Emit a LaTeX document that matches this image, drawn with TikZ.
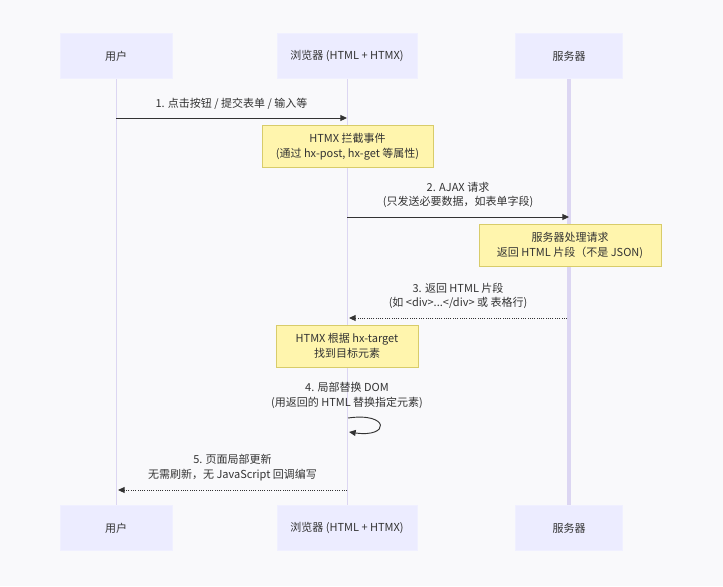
\documentclass[tikz,border=0pt]{standalone}
\usepackage{fontspec}
\setmainfont{Noto Sans CJK SC}
\usetikzlibrary{arrows.meta}
\definecolor{bgc}{HTML}{F9F9FB}
\definecolor{actorfill}{HTML}{ECECFF}
\definecolor{lifeline}{HTML}{DCD6F2}
\definecolor{notefill}{HTML}{FFF5AD}
\definecolor{notedraw}{HTML}{D8CC6A}
\definecolor{txt}{HTML}{333333}
\tikzset{
  actor/.style={fill=actorfill,draw=actorfill!80!white,minimum height=33.75pt,font=\fontsize{8.25}{10}\selectfont,text=txt},
  note/.style={fill=notefill,draw=notedraw,font=\fontsize{8.25}{11}\selectfont,text=txt,align=center,minimum height=31.5pt},
  msgtext/.style={font=\fontsize{8.25}{11}\selectfont,text=txt,align=center},
  msg/.style={-{Triangle[length=5pt,width=4.5pt]},draw=txt,line width=0.7pt},
  reply/.style={msg,densely dotted}
}
\begin{document}
\begin{tikzpicture}[x=0.75pt,y=-0.75pt]
  \fill[bgc] (0,0) rectangle (723,586);
  \useasboundingbox (0,0) rectangle (723,586);

  % lifelines
  \draw[lifeline,line width=0.75pt] (116,78) -- (116,505);
  \draw[lifeline,line width=0.75pt] (347,78) -- (347,505);
  \draw[lifeline,line width=3pt] (569,78) -- (569,505);

  % participants
  \node[actor,minimum width=84pt]  (user)   at (116,56)  {用户};
  \node[actor,minimum width=105pt] (browser) at (347,56) {浏览器 (HTML + HTMX)};
  \node[actor,minimum width=80pt]  (server) at (569,56)  {服务器};
  \node[actor,minimum width=84pt]  (userB)   at (116,528) {用户};
  \node[actor,minimum width=105pt] (browserB) at (347,528) {浏览器 (HTML + HTMX)};
  \node[actor,minimum width=80pt]  (serverB) at (569,528) {服务器};

  \coordinate (u1) at (116,118);  \coordinate (b1) at (347,118);
  \coordinate (b2) at (347,217);  \coordinate (s2) at (569,217);
  \coordinate (s3) at (567,318);  \coordinate (b3) at (349,318);
  \coordinate (b4) at (348,418);  \coordinate (b4e) at (349,432);
  \coordinate (b5) at (347,490);  \coordinate (u5) at (118,490);

  % messages
  \draw[msg] (u1) -- node[msgtext,above=3pt] {1. 点击按钮 / 提交表单 / 输入等} (b1);
  \node[note,minimum width=128pt] (n1) at (347.5,146.5) {HTMX 拦截事件\\(通过 hx-post, hx-get 等属性)};
  \draw[msg] (b2) -- node[msgtext,above=3pt] {2. AJAX 请求\\(只发送必要数据，如表单字段)} (s2);
  \node[note,minimum width=136.5pt] (n2) at (570,245.5) {服务器处理请求\\返回 HTML 片段（不是 JSON)};
  \draw[reply] (s3) -- node[msgtext,above=3pt] {3. 返回 HTML 片段\\(如 <div>...</div> 或 表格行)} (b3);
  \node[note,minimum width=106.5pt] (n3) at (347,346) {HTMX 根据 hx-target\\找到目标元素};
  \node[msgtext] (m4) at (347,395.5) {4. 局部替换 DOM\\(用返回的 HTML 替换指定元素)};
  \draw[msg] (b4) .. controls (390,412) and (390,438) .. (b4e);
  \draw[reply] (b5) -- node[msgtext,above=3pt] {5. 页面局部更新\\无需刷新，无 JavaScript 回调编写} (u5);
\end{tikzpicture}
\end{document}
